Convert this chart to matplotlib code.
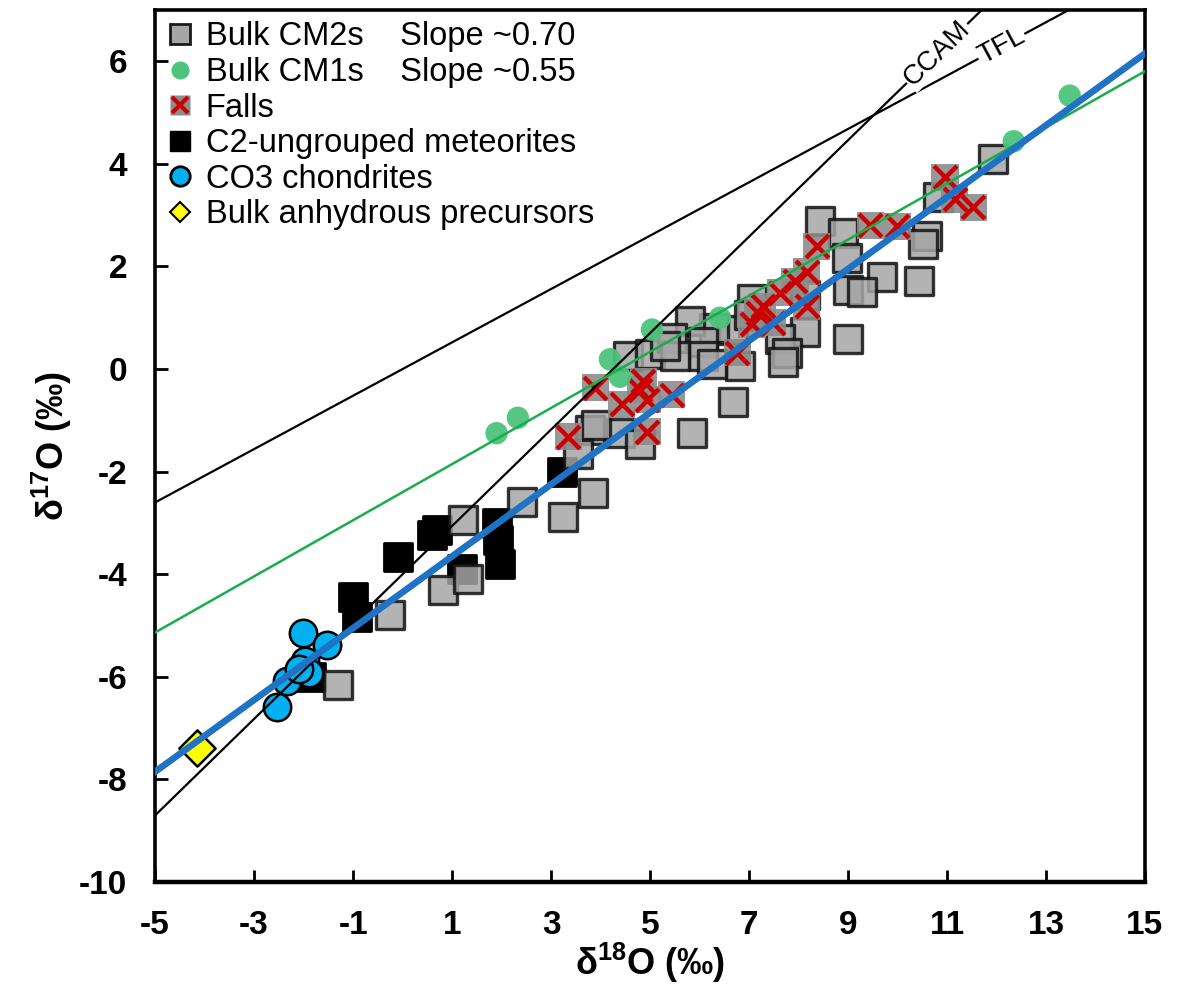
import matplotlib
matplotlib.use("Agg")
import matplotlib.pyplot as plt
from matplotlib.lines import Line2D
import numpy as np

plt.rcParams['font.family'] = ['Liberation Sans', 'DejaVu Sans']
plt.rcParams['axes.unicode_minus'] = False
plt.rcParams['mathtext.fontset'] = 'custom'
plt.rcParams['mathtext.rm'] = 'Liberation Sans'
plt.rcParams['mathtext.bf'] = 'Liberation Sans:bold'

# bulk CM2s (grey squares)
cm2_x = [11.93, 10.82, 10.6, 10.51, 9.69, 10.43, 9.0, 9.28, 9.0, 8.43, 8.9, 8.98,
         7.06, 8.13, 8.13, 7.63, 7.77, 7.69, 6.68, 6.3, 5.8, 6.07, 6.07, 6.82,
         6.68, 5.85, 4.56, 5.0, 5.45, 5.5, 6.25, 4.39, 4.8, 3.79, 3.9, 3.55,
         3.24, 3.85, 2.41, 1.22, 0.82, 1.32, -0.25, -1.3, 7.0, 5.3]
cm2_y = [4.09, 3.35, 2.59, 2.43, 1.8, 1.71, 1.55, 1.51, 0.58, 2.88, 2.66, 2.17,
         1.36, 1.45, 0.73, 0.58, 0.32, 0.13, 0.77, 0.81, 0.93, 0.52, 0.25, 0.05,
         -0.65, -1.24, 0.25, 0.3, 0.6, 0.25, 0.1, -1.24, -1.47, -1.18, -1.1, -1.65,
         -2.88, -2.42, -2.59, -2.94, -4.3, -4.1, -4.79, -6.16, 1.05, 0.45]

# falls (CM2s that were seen to fall)
falls_x = [10.96, 11.16, 11.53, 9.45, 10.0, 8.37, 8.17, 7.93, 7.63, 7.28, 7.18,
           8.17, 7.48, 7.06, 6.76, 4.86, 3.89, 4.43, 4.94, 5.44, 3.35, 4.94, 4.8]
falls_y = [3.74, 3.31, 3.15, 2.8, 2.78, 2.39, 1.9, 1.71, 1.49, 1.22, 1.1,
           1.22, 0.9, 0.87, 0.32, -0.24, -0.36, -0.69, -0.6, -0.5, -1.32, -1.22, -0.4]

# bulk CM1s
cm1_x = [1.9, 2.33, 4.19, 4.39, 5.04, 6.41, 12.35, 13.48]
cm1_y = [-1.25, -0.95, 0.19, -0.15, 0.77, 1.0, 4.44, 5.33]

# C2-ungrouped
c2_x = [-0.09, -1.0, -0.92, 0.6, 0.7, 1.91, 1.93, 1.97, 1.2, 3.22, -1.85]
c2_y = [-3.66, -4.44, -4.83, -3.23, -3.13, -3.0, -3.33, -3.8, -3.9, -2.0, -6.0]

# CO3 chondrites
co3_x = [-2.01, -1.53, -1.97, -1.9, -2.33, -2.54, -2.1]
co3_y = [-5.15, -5.37, -5.7, -5.92, -6.08, -6.58, -5.85]

# anhydrous precursor
pre_x = [-4.15]
pre_y = [-7.39]

# reference / fit lines: slope, intercept
tfl = (0.52, 0.0)
ccam = (0.94, -4.0)
cm1_fit = (0.547, -2.40)
cm2_fit = (0.70, -4.35)

fig = plt.figure(figsize=(11.84, 9.97), dpi=100)
ax = fig.add_axes([0.131, 0.1153, 0.836, 0.8747])

ax.scatter(c2_x, c2_y, s=380, marker='s', c='black', edgecolors='black', linewidths=2, zorder=2)
ax.scatter(cm2_x, cm2_y, s=380, marker='s', c='#a6a6a6', edgecolors='#111111', linewidths=2.4,
           alpha=0.85, zorder=3)
ax.scatter(falls_x, falls_y, s=380, marker='s', c='#8c8c8c', edgecolors='none', alpha=0.9, zorder=4)
ax.scatter(falls_x, falls_y, s=270, marker='x', c='#cc0000', linewidths=3.2, zorder=5)
ax.scatter(cm1_x, cm1_y, s=260, marker='o', c='#4cc47c', edgecolors='none', alpha=0.95, zorder=6)
ax.scatter(co3_x, co3_y, s=390, marker='o', c='#00b0f0', edgecolors='black', linewidths=1.8, zorder=6)
ax.scatter(pre_x, pre_y, s=340, marker='D', c='#ffff00', edgecolors='black', linewidths=1.8, zorder=6)

xx = np.array([-5, 15])
ax.plot(xx, tfl[0] * xx + tfl[1], color='black', lw=1.6, zorder=8)
ax.plot(xx, ccam[0] * xx + ccam[1], color='black', lw=1.6, zorder=8)
ax.plot(xx, cm1_fit[0] * xx + cm1_fit[1], color='#19ad4b', lw=1.8, zorder=9)
ax.plot(xx, cm2_fit[0] * xx + cm2_fit[1], color='#1f72c4', lw=4.8, zorder=10)

# line labels sitting on the lines
for name, (m, b), xt in [("CCAM", ccam, 10.8), ("TFL", tfl, 12.1)]:
    ax.text(xt, m * xt + b, name, fontsize=20, rotation=np.degrees(np.arctan(m)),
            rotation_mode='anchor', transform_rotates_text=True, ha='center', va='center',
            bbox=dict(facecolor='white', edgecolor='none', pad=1), zorder=11)

ax.set_xlim(-5, 15)
ax.set_ylim(-10, 7)
ax.set_xticks(np.arange(-5, 16, 2))
ax.set_yticks(np.arange(-10, 7, 2))
ax.tick_params(direction='in', length=9, width=2, labelsize=24)
ax.tick_params(axis='x', pad=20)
ax.tick_params(axis='y', pad=20)
for lab in ax.get_xticklabels() + ax.get_yticklabels():
    lab.set_fontweight('bold')
for side in ['left', 'right', 'top']:
    ax.spines[side].set_linewidth(2.6)
ax.spines['bottom'].set_linewidth(3.2)

ax.set_xlabel(r'$\mathbf{\delta^{18}O}$ (‰)', fontsize=26, fontweight='bold', labelpad=0)
ax.set_ylabel(r'$\mathbf{\delta^{17}O}$ (‰)', fontsize=26, fontweight='bold', labelpad=4)

handles = [
    Line2D([], [], ls='none', marker='s', ms=14, mfc='#a6a6a6', mec='#1a1a1a', mew=2),
    Line2D([], [], ls='none', marker='o', ms=13, mfc='#4cc47c', mec='none'),
    (Line2D([], [], ls='none', marker='s', ms=14, mfc='#8c8c8c', mec='none'),
     Line2D([], [], ls='none', marker='x', ms=12, mec='#cc0000', mew=3)),
    Line2D([], [], ls='none', marker='s', ms=14, mfc='black', mec='black'),
    Line2D([], [], ls='none', marker='o', ms=14, mfc='#00b0f0', mec='black', mew=2),
    Line2D([], [], ls='none', marker='D', ms=10, mfc='#ffff00', mec='black', mew=1.5),
]
labels = ["Bulk CM2s    Slope ~0.70", "Bulk CM1s    Slope ~0.55", "Falls",
          "C2-ungrouped meteorites", "CO3 chondrites", "Bulk anhydrous precursors"]
ax.legend(handles, labels, loc='upper left', frameon=False, fontsize=23.5,
          handlelength=0.8, handletextpad=0.4, labelspacing=0.14,
          borderaxespad=0.15, borderpad=0.2)

fig.savefig('out.png', dpi=100)
